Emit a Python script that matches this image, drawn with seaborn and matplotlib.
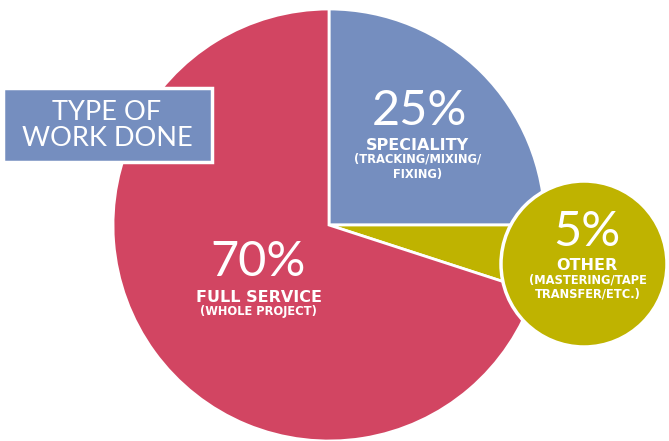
import matplotlib
matplotlib.use("Agg")
import matplotlib.pyplot as plt
from matplotlib.patches import Rectangle, Circle
import seaborn as sns

# data
categories = ["SPECIALITY", "OTHER", "FULL SERVICE"]
shares = [25, 5, 70]
pct_labels = ["25%", "5%", "70%"]
sub_labels = ["(TRACKING/MIXING/\nFIXING)", "(MASTERING/TAPE\nTRANSFER/ETC.)", "(WHOLE PROJECT)"]
colors = ["#758ebf", "#bfb300", "#d24562"]
title_text = "TYPE OF\nWORK DONE"

sns.set_theme(style="white")
plt.rcParams["font.family"] = ["Lato", "DejaVu Sans"]

W, H = 669, 441
fig = plt.figure(figsize=(W / 100, H / 100), dpi=100)
ax = fig.add_axes([0, 0, 1, 1])

cx, cy, r = 329, 216, 216
ax.pie(shares, colors=colors, startangle=90, counterclock=False,
       center=(cx, cy), radius=r, frame=True,
       wedgeprops=dict(edgecolor="white", linewidth=2))
ax.set_xlim(0, W)
ax.set_ylim(0, H)
ax.set_aspect("equal")
ax.axis("off")

# "other" bubble
ax.add_patch(Circle((584, 177), 83, facecolor=colors[1], edgecolor="white",
                    linewidth=2.5, zorder=5))

# title box
ax.add_patch(Rectangle((3, 279), 209, 74, facecolor=colors[0], edgecolor="white",
                       linewidth=2.5, zorder=5))
ax.text(107, 315, title_text, ha="center", va="center", color="white",
        fontsize=19.5, fontweight="normal", linespacing=1.05, zorder=6)

big = 35
bold_font = ["DejaVu Sans"]
lab_fs = 11.5
sub_fs = 8.3

# speciality
ax.text(419, 330, pct_labels[0], ha="center", va="center", color="white",
        fontsize=big, fontweight="normal", zorder=6)
ax.text(417, 296, categories[0], ha="center", va="center", color="white",
        fontsize=lab_fs, fontweight="bold", family=bold_font, zorder=6)
ax.text(418, 274, sub_labels[0], ha="center", va="center", color="white",
        fontsize=sub_fs, fontweight="bold", family=bold_font, linespacing=1.25, zorder=6)

# other
ax.text(587, 209, pct_labels[1], ha="center", va="center", color="white",
        fontsize=big, fontweight="normal", zorder=6)
ax.text(587, 175, categories[1], ha="center", va="center", color="white",
        fontsize=lab_fs, fontweight="bold", family=bold_font, zorder=6)
ax.text(588, 154, sub_labels[1], ha="center", va="center", color="white",
        fontsize=sub_fs, fontweight="bold", family=bold_font, linespacing=1.1, zorder=6)

# full service
ax.text(258, 179, pct_labels[2], ha="center", va="center", color="white",
        fontsize=big, fontweight="normal", zorder=6)
ax.text(259, 144, categories[2], ha="center", va="center", color="white",
        fontsize=lab_fs, fontweight="bold", family=bold_font, zorder=6)
ax.text(258, 130, sub_labels[2], ha="center", va="center", color="white",
        fontsize=sub_fs, fontweight="bold", family=bold_font, zorder=6)

fig.savefig("out.png", dpi=100, facecolor="white")
